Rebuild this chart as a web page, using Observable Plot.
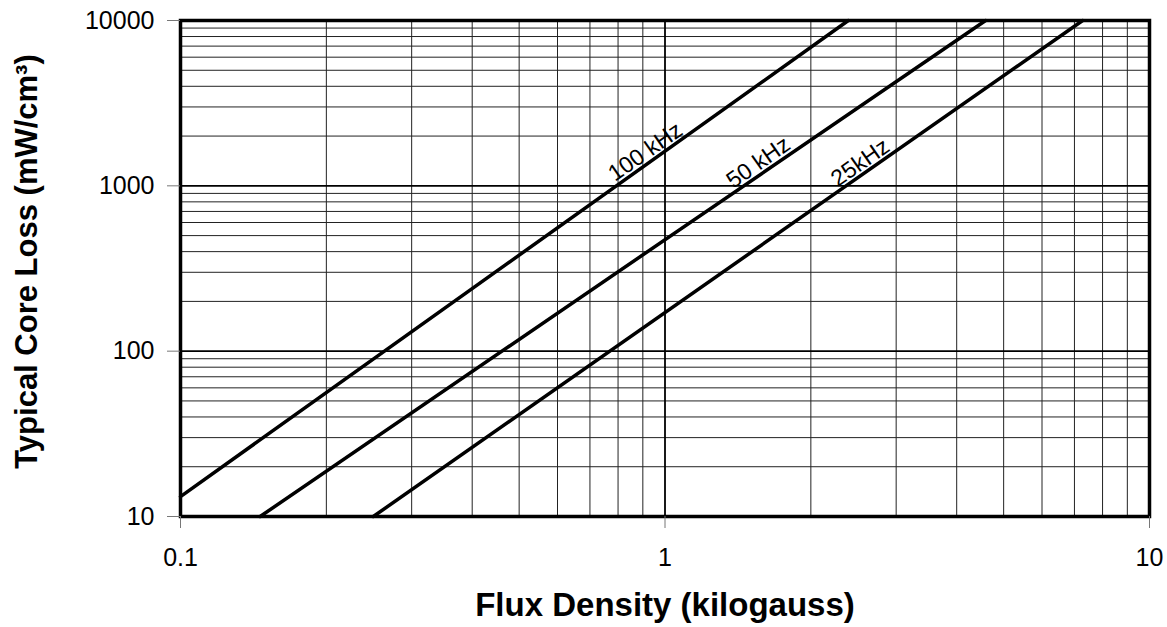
<!DOCTYPE html>
<html>
<head>
<meta charset="utf-8">
<script src="https://cdn.jsdelivr.net/npm/d3@7"></script>
<script src="https://cdn.jsdelivr.net/npm/@observablehq/plot@0.6"></script>
<style>
  html, body { margin: 0; padding: 0; background: white; }
</style>
</head>
<body>
<div id="chart"></div>
<script>
// Series: endpoints of each straight log-log loss line
const series = ["100 kHz", "50 kHz", "25kHz"];
const fluxStart = [0.1, 0.146, 0.25];
const fluxEnd   = [2.39, 4.59, 7.28];
const lossStart = [13.2, 10, 10];
const lossEnd   = [10000, 10000, 10000];

// Label anchor points on each line (data units)
const labelFlux = [0.938, 1.605, 2.605];
const labelLoss = [1416, 1222, 1218];

// Tick labels and grid lines
const xTicks = [0.1, 1, 10];
const yTicks = [10, 100, 1000, 10000];
const xMinor = [0.2, 0.3, 0.4, 0.5, 0.6, 0.7, 0.8, 0.9, 2, 3, 4, 5, 6, 7, 8, 9];
const yMinor = [20, 30, 40, 50, 60, 70, 80, 90,
                200, 300, 400, 500, 600, 700, 800, 900,
                2000, 3000, 4000, 5000, 6000, 7000, 8000, 9000];

const lineRows = [];
series.forEach((s, i) => {
  lineRows.push({series: s, flux: fluxStart[i], loss: lossStart[i]});
  lineRows.push({series: s, flux: fluxEnd[i], loss: lossEnd[i]});
});
const labelRows = series.map((s, i) => ({series: s, flux: labelFlux[i], loss: labelLoss[i]}));

const font = "'Liberation Sans', Arial, Helvetica, sans-serif";

const chart = Plot.plot({
  width: 1167,
  height: 627,
  marginLeft: 180,
  marginRight: 18,
  marginTop: 20,
  marginBottom: 111,
  style: {fontFamily: font, background: "white", color: "black", overflow: "visible"},
  x: {type: "log", domain: [0.1, 10]},
  y: {type: "log", domain: [10, 10000]},
  marks: [
    Plot.ruleX(xMinor, {stroke: "#222", strokeWidth: 1}),
    Plot.ruleY(yMinor, {stroke: "#222", strokeWidth: 1}),
    Plot.ruleX(xTicks, {stroke: "black", strokeWidth: 1.8}),
    Plot.ruleY(yTicks, {stroke: "black", strokeWidth: 1.8}),
    Plot.line(lineRows, {x: "flux", y: "loss", z: "series", stroke: "black", strokeWidth: 3.5}),
    Plot.text(labelRows, {x: "flux", y: "loss", text: "series", rotate: -35,
      fontSize: 23, fill: "black", textAnchor: "middle", lineAnchor: "bottom", dx: -2, dy: -3}),
    Plot.frame({stroke: "black", strokeWidth: 3.5}),
    Plot.axisX(xTicks, {tickSize: 12, tickPadding: 20, fontSize: 25, stroke: "#777", fill: "black",
      tickFormat: d => String(d), label: null}),
    Plot.axisY(yTicks, {tickSize: 13, tickPadding: 13, fontSize: 25, stroke: "#777", fill: "black",
      tickFormat: d => String(d), label: null}),
    Plot.text(["Flux Density (kilogauss)"], {frameAnchor: "bottom", dy: 89, fontSize: 33,
      fontWeight: "bold", fill: "black", textAnchor: "middle", lineAnchor: "middle"}),
    Plot.text(["Typical Core Loss (mW/cm³)"], {frameAnchor: "left", dx: -153, dy: -7, rotate: -90,
      fontSize: 31, fontWeight: "bold", fill: "black", textAnchor: "middle", lineAnchor: "middle"})
  ]
});
document.getElementById("chart").appendChild(chart);
</script>
</body>
</html>
